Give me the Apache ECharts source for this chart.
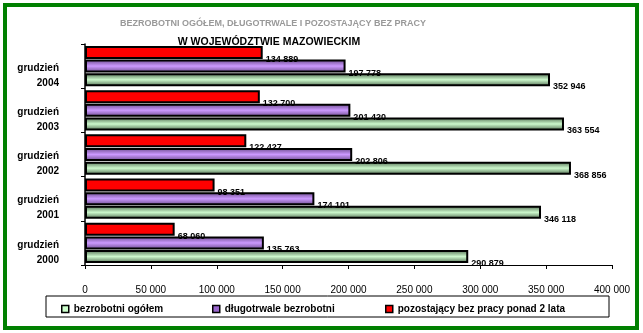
<!DOCTYPE html>
<html><head><meta charset="utf-8">
<script src="https://cdn.jsdelivr.net/npm/echarts@6/dist/echarts.min.js"></script>
<style>html,body{margin:0;padding:0;background:#fff}#c{width:643px;height:333px}</style>
</head><body><div id="c"></div>
<script>
const categories = ['grudzień\n2000','grudzień\n2001','grudzień\n2002','grudzień\n2003','grudzień\n2004'];
const seriesNames = ['bezrobotni ogółem','długotrwale bezrobotni','pozostający bez pracy ponad 2 lata'];
const ogolem = [290879, 346118, 368856, 363554, 352946];
const dlugotrwale = [135763, 174101, 202806, 201420, 197778];
const ponad2 = [68060, 98351, 122427, 132700, 134889];
const xTicks = [0, 50000, 100000, 150000, 200000, 250000, 300000, 350000, 400000];

const fmt = v => String(v).replace(/\B(?=(\d{3})+(?!\d))/g, ' ');
const chart = echarts.init(document.getElementById('c'));
const grad = (d, l) => new echarts.graphic.LinearGradient(0,0,0,1,[
  {offset:0,color:d},{offset:0.5,color:l},{offset:1,color:d}]);
const colors = [grad('#4f6a4f','#ccf8cc'), grad('#6a4a8a','#cc99ff'), '#ff0000'];
const legendColors = ['#ccffcc','#9966cc','#ff0000'];
const legendLefts = [56, 207, 380];
const dataSets = [ogolem, dlugotrwale, ponad2];
const labelStyle = {show:true, position:'right', distance:3, offset:[0,7],
  formatter: p => fmt(p.value), fontFamily:'Liberation Sans', fontWeight:'bold', fontSize:9, color:'#000'};

// series drawn top-to-bottom in a band: red, purple, green
const order = [2, 1, 0];

chart.setOption({
  animation:false,
  graphic:[
    {type:'rect', shape:{x:5,y:5,width:632,height:323}, style:{fill:'none', stroke:'#008000', lineWidth:4}},
    {type:'rect', shape:{x:46,y:296,width:563,height:21}, style:{fill:'none', stroke:'#000', lineWidth:1}},
    {type:'text', x:273, y:19, style:{text:'BEZROBOTNI OGÓŁEM, DŁUGOTRWALE I POZOSTAJĄCY BEZ PRACY', align:'center', fill:'#999', font:'bold 9px Liberation Sans'}},
    {type:'text', x:269, y:37, style:{text:'W WOJEWÓDZTWIE MAZOWIECKIM', align:'center', fill:'#000', font:'bold 10.5px Liberation Sans'}}
  ],
  grid:{left:85, right:31, top:44, bottom:68},
  legend: seriesNames.map((n,i)=>({bottom:14, left:legendLefts[i], itemWidth:7, itemHeight:7, icon:'rect', itemGap:4,
    textStyle:{fontFamily:'Liberation Sans', fontWeight:'bold', fontSize:10, color:'#000', padding:[9,0,0,0]},
    data:[{name:n, itemStyle:{color:legendColors[i], borderColor:'#000', borderWidth:1.5}}]})),
  xAxis:{type:'value', min:0, max:400000, interval:50000,
    axisLine:{show:true, lineStyle:{color:'#000'}}, axisTick:{show:true, length:4, lineStyle:{color:'#000'}},
    splitLine:{show:false},
    axisLabel:{margin:20, formatter:v=>fmt(v), fontFamily:'Liberation Sans', fontSize:10, color:'#000'}},
  yAxis:{type:'category', data:categories,
    axisLine:{show:true, lineStyle:{color:'#000', width:1.5}}, axisTick:{show:true, length:4, lineStyle:{color:'#000'}},
    axisLabel:{margin:26, interval:0, hideOverlap:false,
      formatter: v => '{p| }\n' + v.split('\n').map(s=>'{a|'+s+'}').join('\n'),
      rich:{p:{lineHeight:19, fontSize:10}, a:{lineHeight:15, fontFamily:'Liberation Sans', fontWeight:'bold', fontSize:10, color:'#000', align:'right'}},
      fontFamily:'Liberation Sans', fontWeight:'bold', fontSize:10, color:'#000'}},
  series: order.map(i=>({
    name:seriesNames[i], type:'bar', data:dataSets[i], barWidth:13, barGap:'5%',
    itemStyle:{color:colors[i], borderColor:'#000', borderWidth:2},
    label:labelStyle
  }))
});
</script></body></html>
